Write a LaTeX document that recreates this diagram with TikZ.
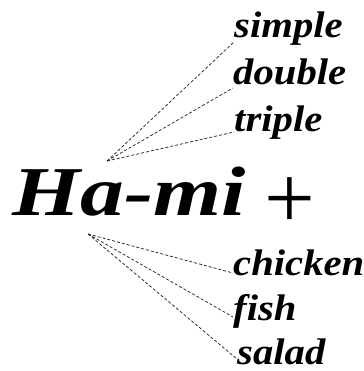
\documentclass[tikz,border=0pt]{standalone}
\usepackage{fontspec}
\newfontfamily\brushfont{Liberation Serif}
\begin{document}
\begin{tikzpicture}[x=1pt,y=-1pt,
  word/.style={inner sep=0pt,anchor=base west,xscale=1.1,font=\brushfont\fontsize{37}{37}\selectfont\bfseries\itshape},
  big/.style={inner sep=0pt,anchor=base west,xscale=1.25,font=\brushfont\fontsize{70}{70}\selectfont\bfseries\itshape},
  plussign/.style={inner sep=0pt,anchor=center,font=\brushfont\fontsize{90}{90}\selectfont},
  link/.style={draw=black!85,line width=0.75pt,dash pattern=on 3pt off 2pt}]
\useasboundingbox (0,0) rectangle (363,371);
\node[word] (simple) at (234,38) {simple};
\node[word] (double) at (233,85) {double};
\node[word] (triple) at (234,132) {triple};
\node[big] (hami) at (12,215) {Ha-mi};
\node[plussign] (plus) at (290,203) {+};
\node[word] (chicken) at (233,275) {chicken};
\node[word] (fish) at (233,320) {fish};
\node[word] (salad) at (237,364) {salad};
\coordinate (hubup) at (107,161);
\coordinate (hubdown) at (88,234);
\draw[link] (hubup) -- ([yshift=-4pt]simple.base west);
\draw[link] (hubup) -- ([yshift=-3pt]double.base west);
\draw[link] (hubup) -- ([yshift=0pt]triple.base west);
\draw[link] (hubdown) -- ([yshift=2pt]chicken.base west);
\draw[link] (hubdown) -- ([yshift=3pt]fish.base west);
\draw[link] (hubdown) -- ([yshift=5pt]salad.base west);
\end{tikzpicture}
\end{document}
